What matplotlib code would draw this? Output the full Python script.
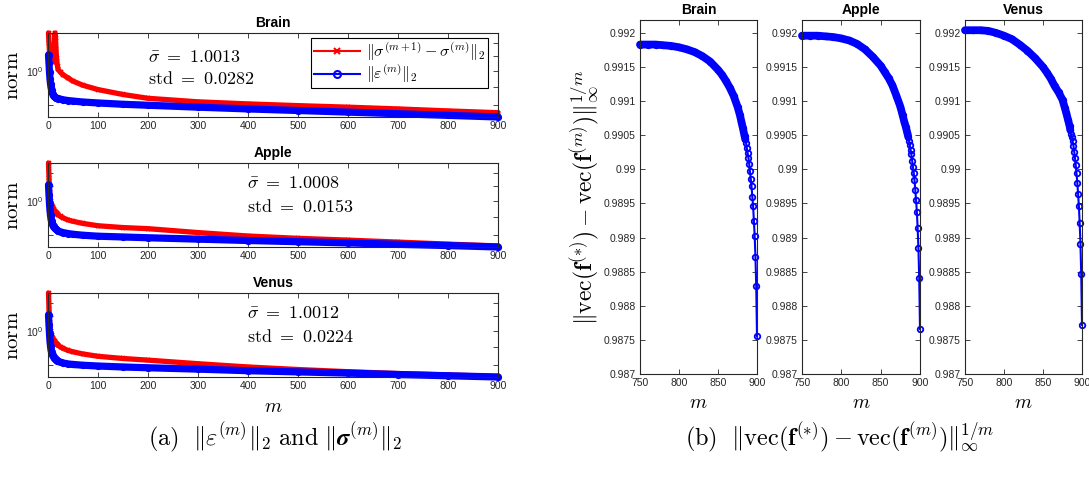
import matplotlib
matplotlib.use("Agg")
import matplotlib.pyplot as plt
from matplotlib.lines import Line2D
from matplotlib.ticker import FixedLocator, FixedFormatter, NullFormatter

plt.rcParams['mathtext.fontset'] = 'cm'
plt.rcParams['font.family'] = ['Liberation Sans', 'DejaVu Sans']

# ---- (a) norms vs m (log scale) ----
m_left = [1, 2, 3, 4, 5, 6, 7, 8, 9, 10, 11, 12, 13, 14, 15, 16, 17, 18, 19, 20,
          25, 30, 40, 50, 70, 100, 150, 200, 300, 400, 500, 600, 700, 800, 900]

brain_sigma = [1.28, 1.20, 1.13, 1.10, 1.08, 1.07, 1.09, 1.11, 1.08, 1.06, 1.08, 1.12, 1.20, 1.28, 1.24,
               1.15, 1.09, 1.05, 1.03, 1.01, 0.99, 0.975, 0.955, 0.935, 0.91, 0.885, 0.857, 0.836,
               0.817, 0.806, 0.797, 0.789, 0.780, 0.770, 0.761]
brain_eps = [1.11, 1.05, 0.99, 0.95, 0.92, 0.90, 0.885, 0.872, 0.862, 0.855, 0.850, 0.846, 0.843, 0.841,
             0.839, 0.838, 0.837, 0.836, 0.835, 0.834, 0.831, 0.828, 0.824, 0.821, 0.816, 0.811, 0.804,
             0.799, 0.789, 0.780, 0.772, 0.764, 0.756, 0.748, 0.740]
apple_sigma = [1.28, 1.16, 1.06, 1.02, 1.00, 0.985, 0.975, 0.965, 0.958, 0.952, 0.946, 0.941, 0.936, 0.932,
               0.928, 0.925, 0.922, 0.919, 0.916, 0.913, 0.903, 0.895, 0.883, 0.875, 0.863, 0.850, 0.840,
               0.834, 0.813, 0.795, 0.783, 0.774, 0.764, 0.754, 0.745]
apple_eps = [1.11, 1.04, 0.98, 0.94, 0.91, 0.89, 0.875, 0.864, 0.856, 0.850, 0.846, 0.842, 0.838, 0.835,
             0.832, 0.830, 0.828, 0.826, 0.824, 0.822, 0.817, 0.813, 0.808, 0.804, 0.799, 0.794, 0.790,
             0.786, 0.779, 0.772, 0.766, 0.760, 0.753, 0.747, 0.740]
venus_sigma = [1.28, 1.15, 1.06, 1.02, 1.00, 0.985, 0.973, 0.963, 0.956, 0.950, 0.944, 0.938, 0.933, 0.929,
               0.925, 0.922, 0.919, 0.916, 0.913, 0.910, 0.900, 0.892, 0.880, 0.872, 0.860, 0.847, 0.835,
               0.826, 0.807, 0.790, 0.777, 0.766, 0.757, 0.750, 0.743]
venus_eps = [1.11, 1.04, 0.98, 0.935, 0.905, 0.885, 0.870, 0.860, 0.853, 0.848, 0.843, 0.839, 0.836, 0.833,
             0.830, 0.828, 0.826, 0.824, 0.822, 0.820, 0.815, 0.811, 0.806, 0.803, 0.799, 0.795, 0.790,
             0.786, 0.779, 0.771, 0.765, 0.759, 0.752, 0.746, 0.740]

names = ['Brain', 'Apple', 'Venus']
sigma_bar = ['1.0013', '1.0008', '1.0012']
sigma_std = ['0.0282', '0.0153', '0.0224']

# ---- (b) ||vec(f*) - vec(f(m))||^(1/m) for m = 750..900 ----
m_right = [750, 760, 770, 780, 790, 800, 810, 820, 830, 840, 850, 855, 860, 865, 870, 875, 878, 880,
           882, 884, 885, 886, 887, 888, 889, 890, 891, 892, 893, 894, 895, 896, 897, 898, 899, 900]
brain_rate = [0.99183, 0.99183, 0.99183, 0.99182, 0.99181, 0.99179, 0.99176, 0.99172, 0.99166, 0.99158,
              0.99146, 0.99139, 0.99130, 0.99120, 0.99108, 0.99092, 0.99080, 0.99070, 0.99060, 0.99049,
              0.99044, 0.99039, 0.99031, 0.99024, 0.99017, 0.99008, 0.98997, 0.98986, 0.98975, 0.98960,
              0.98946, 0.98925, 0.98903, 0.98872, 0.98829, 0.98755]
apple_rate = [0.99196, 0.99196, 0.99196, 0.99195, 0.99194, 0.99192, 0.99189, 0.99184, 0.99176, 0.99165,
              0.99152, 0.99143, 0.99134, 0.99123, 0.99108, 0.99092, 0.99079, 0.99070, 0.99062, 0.99053,
              0.99048, 0.99042, 0.99036, 0.99029, 0.99022, 0.99013, 0.99004, 0.98995, 0.98984, 0.98970,
              0.98955, 0.98938, 0.98914, 0.98884, 0.98841, 0.98766]
venus_rate = [0.99204, 0.99204, 0.99204, 0.99203, 0.99200, 0.99196, 0.99191, 0.99183, 0.99174, 0.99163,
              0.99150, 0.99142, 0.99133, 0.99122, 0.99113, 0.99102, 0.99090, 0.99082, 0.99073, 0.99064,
              0.99058, 0.99052, 0.99047, 0.99041, 0.99035, 0.99026, 0.99017, 0.99006, 0.98994, 0.98980,
              0.98964, 0.98946, 0.98922, 0.98891, 0.98847, 0.98772]

W, H = 1089, 479
fig = plt.figure(figsize=(W / 100, H / 100), dpi=100)
tick_col = '#262626'


def box(x0, y0, x1, y1):
    # pixel box -> figure fraction rect
    return [x0 / W, 1 - y1 / H, (x1 - x0) / W, (y1 - y0) / H]


def style(ax):
    for s in ax.spines.values():
        s.set_color(tick_col)
        s.set_linewidth(0.8)
    ax.tick_params(which='both', direction='in', top=True, right=True, colors=tick_col,
                   labelsize=7.5, length=3.5, width=0.6, pad=3)


left_data = [(brain_sigma, brain_eps), (apple_sigma, apple_eps), (venus_sigma, venus_eps)]
left_boxes = [(48, 33, 498, 117), (48, 163, 498, 247), (48, 293, 498, 377)]
note_y = [(57, 79), (184, 207), (314, 337)]

for i, (sig, eps) in enumerate(left_data):
    ax = fig.add_axes(box(*left_boxes[i]))
    ax.set_yscale('log')
    ax.plot(m_left, sig, '-', color='red', lw=3.8, solid_capstyle='round', clip_on=False)
    ax.plot(m_left, sig, 'x', color='red', ms=3, mew=1.3, clip_on=False)
    ax.plot(m_left, eps, '-', color='blue', lw=5.2, solid_capstyle='round', clip_on=False)
    ax.plot(m_left, eps, 'o', color='blue', mfc='none', ms=4, mew=1.2, clip_on=False)
    ax.set_xlim(0, 900)
    ax.set_ylim(0.74, 1.28)
    ax.set_xticks(range(0, 901, 100))
    ax.yaxis.set_major_locator(FixedLocator([1.0]))
    ax.yaxis.set_major_formatter(FixedFormatter([r'$\mathregular{10^0}$']))
    ax.yaxis.set_minor_locator(FixedLocator([0.8, 0.9, 1.1, 1.2]))
    ax.yaxis.set_minor_formatter(NullFormatter())
    style(ax)
    ax.set_title(names[i], fontsize=10, fontweight='bold', pad=4.5)
    y0, y1 = left_boxes[i][1], left_boxes[i][3]
    fig.text(13 / W, 1 - (y0 + y1) / 2 / H, r'$\mathrm{norm}$', rotation=90, ha='center',
             va='center', fontsize=15)
    nx = 148 if i == 0 else 247
    fig.text(nx / W, 1 - note_y[i][0] / H, r'$\bar{\sigma}\ =\ %s$' % sigma_bar[i], fontsize=13,
             va='center', ha='left')
    fig.text(nx / W, 1 - note_y[i][1] / H, r'$\mathrm{std}\ =\ %s$' % sigma_std[i], fontsize=13,
             va='center', ha='left')
    if i == 0:
        handles = [Line2D([], [], color='red', marker='x', lw=1.5, ms=4, mew=1.5),
                   Line2D([], [], color='blue', marker='o', mfc='none', lw=1.5, ms=5, mew=1.5)]
        leg = ax.legend(handles, [r'$\|\sigma^{(m+1)}-\sigma^{(m)}\|_2$', r'$\|\varepsilon^{(m)}\|_2$'],
                        loc='upper right', bbox_to_anchor=(488 / W, 1 - 38 / H),
                        bbox_transform=fig.transFigure, borderaxespad=0, fontsize=11.5,
                        fancybox=False, framealpha=1, edgecolor='black', handlelength=2.9,
                        handletextpad=0.4, borderpad=0.15, labelspacing=0.0)
        leg.get_frame().set_linewidth(0.8)

fig.text(273 / W, 1 - 407 / H, r'$m$', ha='center', va='center', fontsize=14)

right_data = [brain_rate, apple_rate, venus_rate]
right_boxes = [(640, 20, 757, 374), (802, 20, 920, 374), (965, 20, 1082, 374)]
yt = [0.987 + 0.0005 * k for k in range(11)]
ytl = ['0.987', '0.9875', '0.988', '0.9885', '0.989', '0.9895', '0.99', '0.9905', '0.991', '0.9915', '0.992']
n_band = m_right.index(885) + 1

for i, rate in enumerate(right_data):
    ax = fig.add_axes(box(*right_boxes[i]))
    ax.plot(m_right[:n_band], rate[:n_band], '-', color='blue', lw=5.6, solid_capstyle='round',
            clip_on=False)
    ax.plot(m_right, rate, '-o', color='blue', mfc='none', lw=1.5, ms=4, mew=1.3, clip_on=False)
    ax.set_xlim(750, 900)
    ax.set_ylim(0.987, 0.99219)
    ax.set_xticks([750, 800, 850, 900])
    ax.set_yticks(yt)
    ax.set_yticklabels(ytl)
    style(ax)
    ax.set_title(names[i], fontsize=10, fontweight='bold', pad=4.5)
    xc = (right_boxes[i][0] + right_boxes[i][2]) / 2
    fig.text(xc / W, 1 - 404 / H, r'$m$', ha='center', va='center', fontsize=14)

fig.text(585 / W, 1 - 197 / H,
         r'$\|\mathrm{vec}(\mathbf{f}^{(*)})-\mathrm{vec}(\mathbf{f}^{(m)})\|_\infty^{1/m}$',
         rotation=90, ha='center', va='center', fontsize=17)

fig.text(275 / W, 1 - 437 / H,
         r'$\mathrm{(a)}\ \ \|\boldsymbol{\varepsilon}^{(m)}\|_2\ \mathrm{and}\ \|\boldsymbol{\sigma}^{(m)}\|_2$',
         ha='center', va='center', fontsize=17.5)
fig.text(840 / W, 1 - 437 / H,
         r'$\mathrm{(b)}\ \ \|\mathrm{vec}(\mathbf{f}^{(*)})-\mathrm{vec}(\mathbf{f}^{(m)})\|_\infty^{1/m}$',
         ha='center', va='center', fontsize=17.5)

fig.savefig('out.png', dpi=100)
